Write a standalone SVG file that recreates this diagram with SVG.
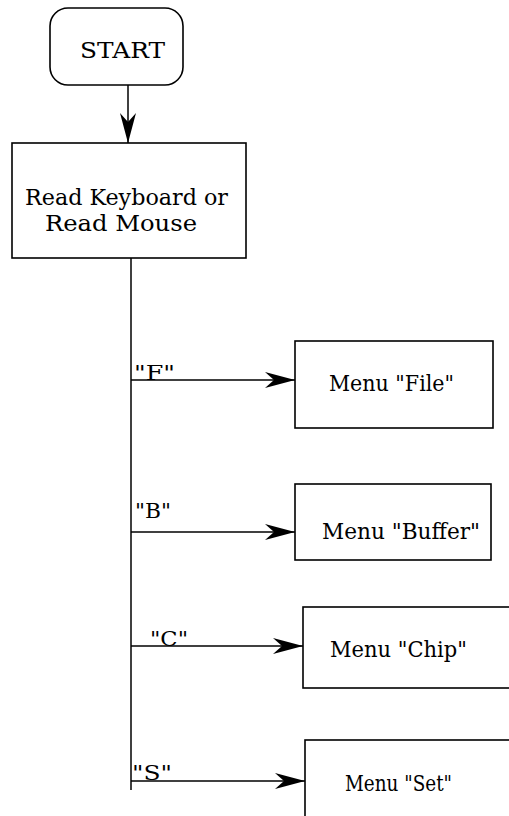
<svg xmlns="http://www.w3.org/2000/svg" width="509" height="816" viewBox="0 0 509 816">
  <style>
    .box { fill: #fff; stroke: #000; stroke-width: 1.6; }
    .wire { fill: none; stroke: #000; stroke-width: 1.5; }
    .txt { font-family: "DejaVu Serif", "Liberation Serif", serif; font-size: 22px; fill: #000; }
    .lbl { font-family: "DejaVu Serif", "Liberation Serif", serif; font-size: 20px; fill: #000; }
  </style>
  <defs>
    <marker id="barb" viewBox="0 0 30 16" refX="30" refY="8" markerWidth="30" markerHeight="16" markerUnits="userSpaceOnUse" orient="auto">
      <path d="M0,0 L30,8 L0,16 L9,8 Z" fill="#000"/>
    </marker>
  </defs>
  <rect width="509" height="816" fill="#fff"/>

  <g id="connectors">
    <line class="wire" x1="128" y1="85" x2="128" y2="143" marker-end="url(#barb)"/>
    <line class="wire" x1="131" y1="258" x2="131" y2="790"/>
    <line class="wire" x1="131" y1="380" x2="295" y2="380" marker-end="url(#barb)"/>
    <line class="wire" x1="131" y1="532" x2="295" y2="532" marker-end="url(#barb)"/>
    <line class="wire" x1="131" y1="646" x2="303" y2="646" marker-end="url(#barb)"/>
    <line class="wire" x1="131" y1="781" x2="305" y2="781" marker-end="url(#barb)"/>
    <text class="lbl" x="134" y="380" textLength="41" lengthAdjust="spacingAndGlyphs">"F"</text>
    <text class="lbl" x="135" y="518" textLength="36" lengthAdjust="spacingAndGlyphs">"B"</text>
    <text class="lbl" x="150" y="646" textLength="38" lengthAdjust="spacingAndGlyphs">"C"</text>
    <text class="lbl" x="132" y="780" textLength="40" lengthAdjust="spacingAndGlyphs">"S"</text>
  </g>

  <g id="start">
    <rect class="box" x="50" y="8" width="133" height="77" rx="18" ry="18"/>
    <text class="txt" x="80" y="58" textLength="85" lengthAdjust="spacingAndGlyphs">START</text>
  </g>

  <g id="read-input">
    <rect class="box" x="12" y="143" width="234" height="115"/>
    <text class="txt" x="25" y="205" textLength="203" lengthAdjust="spacingAndGlyphs">Read Keyboard or</text>
    <text class="txt" x="45" y="231" textLength="152" lengthAdjust="spacingAndGlyphs">Read Mouse</text>
  </g>

  <g id="menu-file">
    <rect class="box" x="295" y="341" width="198" height="87"/>
    <text class="txt" x="329" y="391" textLength="125" lengthAdjust="spacingAndGlyphs">Menu "File"</text>
  </g>

  <g id="menu-buffer">
    <rect class="box" x="295" y="484" width="196" height="76"/>
    <text class="txt" x="322" y="539" textLength="158" lengthAdjust="spacingAndGlyphs">Menu "Buffer"</text>
  </g>

  <g id="menu-chip">
    <rect class="box" x="303" y="607" width="220" height="81"/>
    <text class="txt" x="330" y="657" textLength="137" lengthAdjust="spacingAndGlyphs">Menu "Chip"</text>
  </g>

  <g id="menu-set">
    <rect class="box" x="305" y="740" width="220" height="100"/>
    <text class="txt" x="345" y="791" textLength="107" lengthAdjust="spacingAndGlyphs">Menu "Set"</text>
  </g>
</svg>
